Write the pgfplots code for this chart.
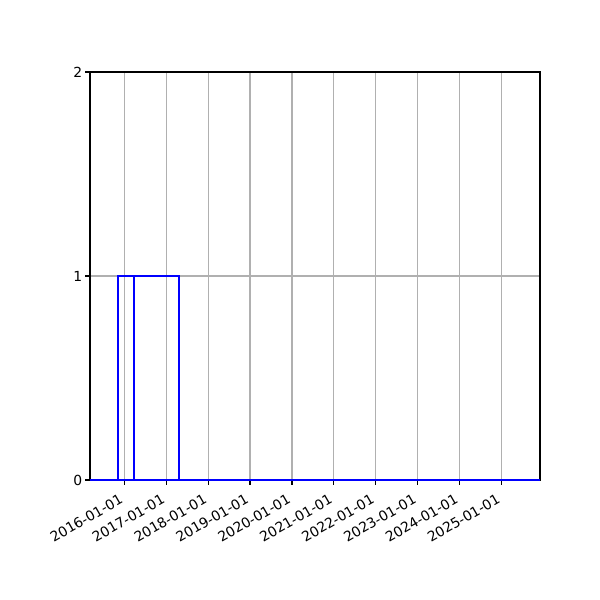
\documentclass[border=0pt]{standalone}
\usepackage{pgfplots}
\pgfplotsset{compat=1.18}
\usepackage{fontspec}
\setmainfont{DejaVu Sans}
\begin{document}
\begin{tikzpicture}
\path[use as bounding box] (-64.8pt,-86.4pt) rectangle (367.2pt,345.6pt);
\begin{axis}[
    scale only axis,
    width=324pt, height=293.76pt,
    xmin=2015.18, xmax=2025.92,
    ymin=0, ymax=2,
    xtick={2016,2017,2018,2019,2020,2021,2022,2023,2024,2025},
    xticklabels={2016-01-01,2017-01-01,2018-01-01,2019-01-01,2020-01-01,2021-01-01,2022-01-01,2023-01-01,2024-01-01,2025-01-01},
    ytick={0,1,2},
    xticklabel style={xshift=-3.6pt, yshift=-4.6pt, rotate=30, anchor=north east, inner sep=1pt},
    yticklabel style={inner sep=1pt, xshift=-1pt},
    tick align=outside,
    major tick length=3.5pt,
    tick style={black, line width=0.8pt},
    xtick pos=bottom, ytick pos=left,
    axis line style={black, line width=0.8pt},
    xmajorgrids, ymajorgrids,
    grid style={color=black!31, line width=0.8pt},
    font=\fontsize{10pt}{12pt}\selectfont,
    /pgf/number format/assume math mode=true,
    yticklabel={\pgfmathprintnumber[fixed,precision=0]{\tick}},
]
% first series
\addplot[blue, line width=1.5pt, mark=none] coordinates {
    (2015.18,0) (2015.857,0) (2015.857,1) (2016.238,1) (2016.238,0) (2025.92,0)
};
% second series
\addplot[blue, line width=1.5pt, mark=none] coordinates {
    (2015.18,0) (2016.238,0) (2016.238,1) (2017.30,1) (2017.30,0) (2025.92,0)
};
\end{axis}
\end{tikzpicture}
\end{document}
